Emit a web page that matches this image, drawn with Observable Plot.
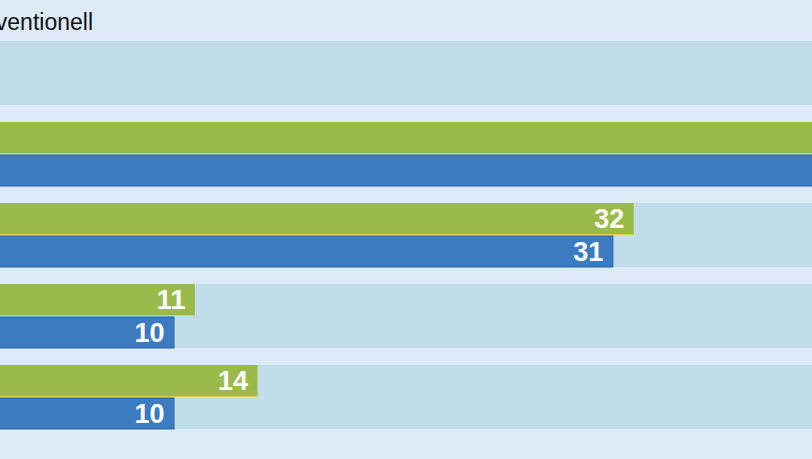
<!DOCTYPE html>
<html><head><meta charset="utf-8">
<script src="https://cdn.jsdelivr.net/npm/d3@7"></script>
<script src="https://cdn.jsdelivr.net/npm/@observablehq/plot@0.6"></script>
<style>
html,body{margin:0;padding:0;width:812px;height:459px;overflow:hidden;background:#dcebf7;}
#wrap{position:relative;width:812px;height:459px;overflow:hidden;background:#dcebf7;}
#chart{position:absolute;left:-35px;top:0;width:941px;height:459px;}
#chart svg{max-width:none !important;width:941px !important;height:459px !important;}
#legend{position:absolute;top:11px;right:719px;font:23px/23px "Liberation Sans",Arial,sans-serif;color:#111;white-space:nowrap;}
</style></head><body>
<div id="wrap"><div id="legend"></div><div id="chart"></div></div>
<script>
const categories = ["Kategorie 1","Kategorie 2","Kategorie 3","Kategorie 4","Kategorie 5"];
const greenValues = [null, 44, 32, 11, 14];
const blueValues = [null, 43, 31, 10, 10];
const legendLabel = "konventionell";
const trackMax = 45;

const greenData = categories.map((c,i)=>({cat:c, value:greenValues[i]})).filter(d=>d.value!=null);
const blueData = categories.map((c,i)=>({cat:c, value:blueValues[i]})).filter(d=>d.value!=null);
const trackData = categories.map(c=>({cat:c, value:trackMax}));

document.getElementById("legend").textContent = legendLabel;

const chart = Plot.plot({
  width: 941,
  height: 459,
  marginLeft: 0, marginRight: 0, marginTop: 0, marginBottom: 0,
  style: {background: "transparent", fontFamily: "'Liberation Sans', Arial, sans-serif", maxWidth: "none"},
  x: {domain: [0, trackMax], range: [0, 940.5], axis: null},
  y: {domain: categories, range: [41, 429], paddingInner: 17/81, paddingOuter: 0, axis: null},
  marks: [
    Plot.barX(trackData, {x: "value", y: "cat", fill: "#c0dde9"}),
    Plot.barX(greenData, {x: "value", y: "cat", fill: "#9aba4b", insetBottom: 32}),
    Plot.barX(greenData, {x: "value", y: "cat", fill: "#d3d64c", insetTop: 31, insetBottom: 32}),
    Plot.barX(blueData, {x: "value", y: "cat", fill: "#3b7bbf", stroke: "#2a64aa", strokeWidth: 1, insetTop: 33}),
    Plot.text(greenData, {x: "value", y: "cat", text: d => String(d.value), dx: -10, dy: -16, textAnchor: "end", fill: "white", fontWeight: "bold", fontSize: 27}),
    Plot.text(blueData, {x: "value", y: "cat", text: d => String(d.value), dx: -10, dy: 17, textAnchor: "end", fill: "white", fontWeight: "bold", fontSize: 27})
  ]
});
document.getElementById("chart").appendChild(chart);
</script>
</body></html>
